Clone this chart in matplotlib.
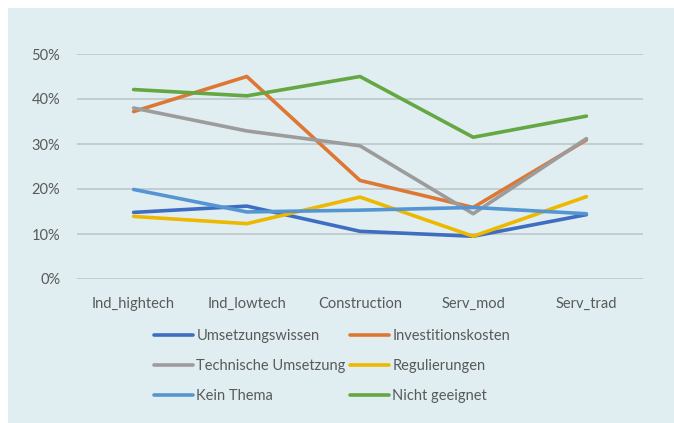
import matplotlib.pyplot as plt
from matplotlib.patches import Rectangle
from matplotlib.ticker import PercentFormatter

categories = ["Ind_hightech", "Ind_lowtech", "Construction", "Serv_mod", "Serv_trad"]
umsetzungswissen = [14.8, 16.2, 10.6, 9.5, 14.3]
investitionskosten = [37.2, 45.0, 21.9, 15.9, 30.9]
technische_umsetzung = [38.0, 32.9, 29.6, 14.5, 31.2]
regulierungen = [13.9, 12.3, 18.2, 9.5, 18.3]
kein_thema = [19.9, 14.9, 15.3, 15.9, 14.5]
nicht_geeignet = [42.1, 40.7, 45.0, 31.5, 36.2]

series = [
    ("Umsetzungswissen", umsetzungswissen, "#3F6DC1"),
    ("Investitionskosten", investitionskosten, "#DF7734"),
    ("Technische Umsetzung", technische_umsetzung, "#9C9C9C"),
    ("Regulierungen", regulierungen, "#EDB800"),
    ("Kein Thema", kein_thema, "#5596D2"),
    ("Nicht geeignet", nicht_geeignet, "#64A743"),
]

plt.rcParams['font.family'] = ['Lato', 'DejaVu Sans']
text_col = "#595959"
W, H = 674, 423

fig = plt.figure(figsize=(W / 100, H / 100), dpi=100, facecolor="white")
# light blue panel behind everything
fig.add_artist(Rectangle((8 / W, 0), 1, 1 - 8 / H, transform=fig.transFigure,
                         facecolor="#E0EEF1", edgecolor="none", zorder=-1))

ax = fig.add_axes([77 / W, (H - 279) / H, (643 - 77) / W, (279 - 54) / H])
ax.set_facecolor("none")

x = range(len(categories))
lines = []
for name, vals, col in series:
    ln, = ax.plot(x, [v / 100 for v in vals], color=col, lw=2.6, label=name,
                  solid_capstyle="round", zorder=3)
    lines.append(ln)

ax.set_xlim(-0.5, len(categories) - 0.5)
ax.set_ylim(0, 0.5)
ax.set_yticks([0, 0.1, 0.2, 0.3, 0.4, 0.5])
ax.yaxis.set_major_formatter(PercentFormatter(1.0, decimals=0))
ax.set_xticks(list(x))
ax.set_xticklabels(categories)
ax.grid(axis="y", color="#BFCACD", lw=1.3, zorder=1)
ax.tick_params(length=0, labelsize=10.5, colors=text_col)
ax.tick_params(axis="x", pad=13)
ax.tick_params(axis="y", pad=12)
for s in ax.spines.values():
    s.set_visible(False)

# legend is filled row by row in the reference
order = [0, 2, 4, 1, 3, 5]
fig.legend([lines[i] for i in order], [series[i][0] for i in order],
           loc="upper left", bbox_to_anchor=(154 / W, 1 - 329 / H), ncol=2,
           frameon=False, borderpad=0, borderaxespad=0, handlelength=2.7,
           handletextpad=0.2, columnspacing=0.3, labelspacing=1.1,
           fontsize=10.5, labelcolor=text_col)

plt.savefig("out.png", dpi=100)
